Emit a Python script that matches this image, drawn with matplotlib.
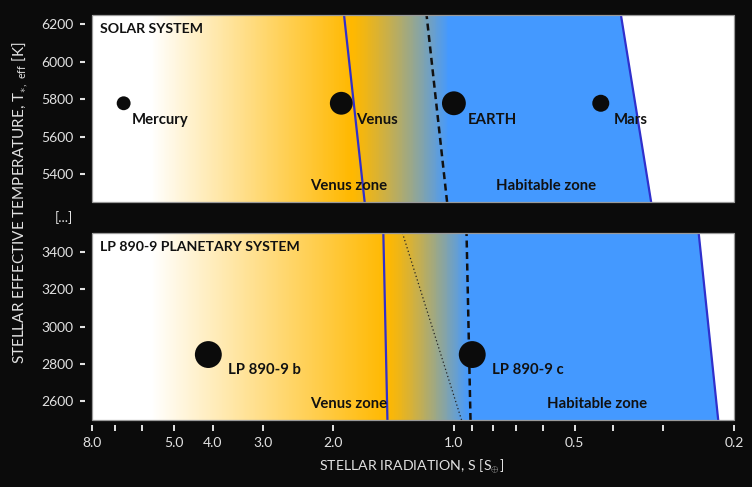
import numpy as np
import matplotlib
matplotlib.use("Agg")
import matplotlib.pyplot as plt
from matplotlib.patches import Rectangle
from matplotlib.ticker import NullLocator

plt.rcParams['font.family'] = ['Lato', 'DejaVu Sans']
plt.rcParams['mathtext.fontset'] = 'custom'
plt.rcParams['mathtext.rm'] = 'Lato'

# ---- data ----
solar_names = ["Mercury", "Venus", "EARTH", "Mars"]
solar_S = [6.67, 1.91, 1.0, 0.43]
solar_T = [5778, 5778, 5778, 5778]
solar_size = [100, 270, 295, 150]

lp_names = ["LP 890-9 b", "LP 890-9 c"]
lp_S = [4.1, 0.9]
lp_T = [2850, 2850]
lp_size = [375, 375]

# zone boundaries: irradiation at (bottom Teff, top Teff)
solar_Tlim = [5250, 6250]
solar_venus = [1.67, 1.88]
solar_inner = [1.04, 1.17]
solar_outer = [0.322, 0.383]
solar_grad = [5.7, 1.80, 1.03]   # white -> orange -> blue

lp_Tlim = [2500, 3500]
lp_venus = [1.465, 1.50]
lp_inner = [0.909, 0.93]
lp_dotted = [0.957, 1.344]
lp_outer = [0.219, 0.245]
lp_grad = [5.7, 1.47, 0.92]

xticks = [8, 7, 6, 5, 4, 3, 2, 1, 0.9, 0.8, 0.7, 0.6, 0.5, 0.4, 0.3, 0.2]
xticklabels = ["8.0", "", "", "5.0", "4.0", "3.0", "2.0", "1.0", "", "", "", "", "0.5", "", "", "0.2"]
solar_yticks = [5400, 5600, 5800, 6000, 6200]
lp_yticks = [2600, 2800, 3000, 3200, 3400]

# ---- style ----
BG = '#0b0b0b'
TXT = '#e2e2e2'
ORANGE = np.array([255, 184, 0]) / 255
BLUE = np.array([68, 153, 255]) / 255
WHITE = np.array([1.0, 1.0, 1.0])
LINE = '#3030cc'
INK = '#111111'

fig = plt.figure(figsize=(7.52, 4.87), dpi=100, facecolor=BG)
ax1 = fig.add_axes([92 / 752, 1 - 202 / 487, 642 / 752, 187 / 487])
ax2 = fig.add_axes([92 / 752, 1 - 420 / 487, 642 / 752, 187 / 487])


def background(ax, Tlim, grad, outer):
    edges = np.geomspace(8, 0.2, 700)
    mids = np.sqrt(edges[:-1] * edges[1:])
    lx = -np.log(mids)
    stops = -np.log(grad)
    # position 0..1 in white->orange, 1..2 in orange->blue
    t = np.interp(lx, stops, [0, 1, 2])
    cols = np.zeros((len(mids), 3))
    a = np.clip(t, 0, 1)
    b = np.clip(t - 1, 0, 1) ** 1.25  # orange holds a little longer
    for k in range(3):
        cols[:, k] = WHITE[k] + (ORANGE[k] - WHITE[k]) * a + (BLUE[k] - ORANGE[k]) * b
    rgb = np.clip(cols, 0, 1)[np.newaxis, :, :]
    ax.pcolormesh(edges, Tlim, rgb, shading='flat', zorder=0, rasterized=True)
    ax.fill_betweenx(Tlim, outer, [0.2, 0.2], color='white', lw=0, zorder=1)


def style(ax, Tlim, yticks, show_x):
    ax.set_xscale('log')
    ax.set_xlim(8, 0.2)
    ax.set_ylim(*Tlim)
    ax.set_facecolor('white')
    for s in ax.spines.values():
        s.set_visible(False)
    ax.spines['left'].set_position(('outward', 5))
    ax.spines['bottom'].set_position(('outward', 3.6))
    ax.add_patch(Rectangle((0, 0), 1, 1, transform=ax.transAxes, fill=False,
                           ec='#9a9a9a', lw=0.9, zorder=10, clip_on=False))
    ax.set_yticks(yticks)
    ax.tick_params(axis='y', colors=TXT, length=3.6, width=1.5, pad=5, labelsize=10)
    ax.xaxis.set_minor_locator(NullLocator())
    if show_x:
        ax.set_xticks(xticks, xticklabels)
        ax.xaxis.set_minor_locator(NullLocator())
        ax.tick_params(axis='x', colors=TXT, length=4.3, width=1.4, pad=4, labelsize=10)
    else:
        ax.set_xticks([])


def planets(ax, names, S, T, sizes, offsets):
    ax.scatter(S, T, s=sizes, color='#0b0b0b', zorder=6, linewidths=0)
    for n, x, y, off in zip(names, S, T, offsets):
        ax.annotate(n, (x, y), xytext=off, textcoords='offset points',
                    fontsize=10.7, fontweight='bold', color=INK,
                    ha='left', va='center', zorder=7)


def label(ax, x, y, s):
    ax.text(x, y, s, fontsize=10.7, fontweight='bold', color=INK, va='center', zorder=7)


# solar system
background(ax1, solar_Tlim, solar_grad, solar_outer)
ax1.plot(solar_venus, solar_Tlim, color=LINE, lw=1.6, zorder=4)
ax1.plot(solar_outer, solar_Tlim, color=LINE, lw=1.6, zorder=4)
ax1.plot(solar_inner, solar_Tlim, color=INK, lw=1.8, ls=(0, (2.8, 1.8)), zorder=4)
planets(ax1, solar_names, solar_S, solar_T, solar_size,
        [(6, -12), (11, -12), (10, -12), (9, -12)])
ax1.text(0.0125, 0.925, "SOLAR SYSTEM", transform=ax1.transAxes, fontsize=10.2,
         fontweight='bold', color=INK, va='center', zorder=7)
label(ax1, 2.28, 5336, "Venus zone")
label(ax1, 0.787, 5336, "Habitable zone")
style(ax1, solar_Tlim, solar_yticks, False)

# LP 890-9
background(ax2, lp_Tlim, lp_grad, lp_outer)
ax2.plot(lp_venus, lp_Tlim, color=LINE, lw=1.6, zorder=4)
ax2.plot(lp_outer, lp_Tlim, color=LINE, lw=1.6, zorder=4)
ax2.plot(lp_dotted, lp_Tlim, color='#222222', lw=0.9, ls=(0, (1, 2)), zorder=4)
ax2.plot(lp_inner, lp_Tlim, color=INK, lw=1.8, ls=(0, (2.8, 1.8)), zorder=4)
planets(ax2, lp_names, lp_S, lp_T, lp_size, [(14, -11), (14, -11)])
ax2.text(0.0125, 0.925, "LP 890-9 PLANETARY SYSTEM", transform=ax2.transAxes, fontsize=10.2,
         fontweight='bold', color=INK, va='center', zorder=7)
label(ax2, 2.28, 2584, "Venus zone")
label(ax2, 0.587, 2584, "Habitable zone")
style(ax2, lp_Tlim, lp_yticks, True)

fig.text(64 / 752, 1 - 218 / 487, "[...]", color=TXT, fontsize=10, ha='center', va='center')
fig.text(20 / 752, 1 - 203 / 487,
         r"STELLAR EFFECTIVE TEMPERATURE, T$_{\ast,\ \mathregular{eff}}$ [K]",
         color=TXT, fontsize=11, rotation=90, ha='center', va='center')
fig.text(412 / 752, 1 - 466 / 487, r"STELLAR IRADIATION, S [S$_{\oplus}$]",
         color=TXT, fontsize=10.2, ha='center', va='center')

fig.savefig("out.png", dpi=100, facecolor=BG)
